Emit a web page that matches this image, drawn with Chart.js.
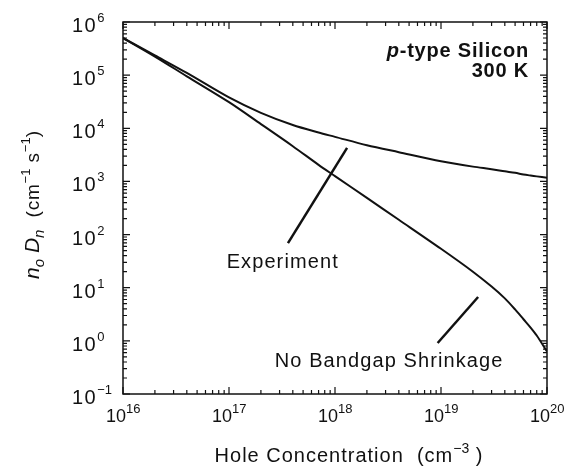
<!DOCTYPE html>
<html>
<head>
<meta charset="utf-8">
<script src="https://cdn.jsdelivr.net/npm/chart.js@4"></script>
<style>
  body { margin: 0; background: #fff; }
  #wrap { width: 581px; height: 470px; }
</style>
</head>
<body>
<div id="wrap"><canvas id="chart" width="581" height="470"></canvas></div>
<script>
// hole concentration (cm^-3)
const holeConc = [1e16, 2e16, 4e16, 1e17, 2e17, 4e17, 7e17, 1e18, 2e18, 4e18, 1e19, 2e19, 3e19, 4e19, 5e19, 6e19, 7e19, 8e19, 1e20];
// n_o D_n (cm^-1 s^-1), measured
const experiment = [5.0e5, 2.35e5, 1.1e5, 3.8e4, 1.95e4, 1.15e4, 8.3e3, 6.9e3, 4.8e3, 3.55e3, 2.4e3, 1.9e3, 1.7e3, 1.55e3, 1.45e3, 1.35e3, 1.29e3, 1.245e3, 1.17e3];
// n_o D_n without bandgap shrinkage
const noShrinkage = [5.0e5, 2.24e5, 9.5e4, 3.1e4, 1.2e4, 4.6e3, 2.05e3, 1.26e3, 490, 190, 54, 20, 10.5, 6.3, 3.9, 2.55, 1.78, 1.26, 0.63];

const xTickExps = [16, 17, 18, 19, 20];
const yTickExps = [-1, 0, 1, 2, 3, 4, 5, 6];

// callouts, in data coordinates
const notes = [
    { text: "Experiment", at: [9.5e16, 23], from: [3.6e17, 69], to: [1.3e18, 4270] },
    { text: "No Bandgap Shrinkage", at: [2.7e17, 0.32], from: [9.3e18, 0.91], to: [2.24e19, 6.7] }
];

const FAMILY = '"Liberation Sans", Arial, Helvetica, sans-serif';
const INK = "#111";

function fontOf(s) {
    return (s.italic ? "italic " : "") + (s.bold ? "bold " : "") + s.size + "px " + FAMILY;
}

function widthOf(ctx, s) {
    ctx.font = fontOf(s);
    ctx.letterSpacing = (s.ls || 0) + "px";
    return ctx.measureText(s.t).width;
}

// draw a row of text pieces (for super/subscripts)
function drawRun(ctx, segs, x, y, align) {
    let w = 0;
    segs.forEach(s => { w += widthOf(ctx, s); });
    let cx = align === "center" ? x - w / 2 : align === "right" ? x - w : x;
    ctx.textAlign = "left";
    ctx.textBaseline = "alphabetic";
    segs.forEach(s => {
        const sw = widthOf(ctx, s);
        ctx.fillText(s.t, cx, y + (s.dy || 0));
        cx += sw;
    });
    ctx.letterSpacing = "0px";
}

function pow10(exp, size, ls, supSize, supDy) {
    const e = String(exp).replace("-", "\u2212");
    return [{ t: "10", size: size, ls: ls }, { t: e, size: supSize, dy: supDy }];
}

const framePlugin = {
    id: "frame",
    afterDraw(chart) {
        const ctx = chart.ctx;
        const a = chart.chartArea;
        const xs = chart.scales.x, ys = chart.scales.y;
        ctx.save();
        ctx.strokeStyle = INK;
        ctx.fillStyle = INK;

        // frame
        ctx.lineWidth = 1.5;
        ctx.strokeRect(a.left, a.top, a.right - a.left, a.bottom - a.top);

        // inward ticks on all four sides
        ctx.lineWidth = 1.2;
        ctx.beginPath();
        for (let e = xTickExps[0]; e <= xTickExps[xTickExps.length - 1]; e++) {
            for (let m = 1; m <= 9; m++) {
                if (e === xTickExps[xTickExps.length - 1] && m > 1) break;
                const p = xs.getPixelForValue(m * Math.pow(10, e));
                const len = m === 1 ? 7 : 4;
                ctx.moveTo(p, a.bottom); ctx.lineTo(p, a.bottom - len);
                ctx.moveTo(p, a.top); ctx.lineTo(p, a.top + len);
            }
        }
        for (let e = yTickExps[0]; e <= yTickExps[yTickExps.length - 1]; e++) {
            for (let m = 1; m <= 9; m++) {
                if (e === yTickExps[yTickExps.length - 1] && m > 1) break;
                const p = ys.getPixelForValue(m * Math.pow(10, e));
                const len = m === 1 ? 7 : 4;
                ctx.moveTo(a.left, p); ctx.lineTo(a.left + len, p);
                ctx.moveTo(a.right, p); ctx.lineTo(a.right - len, p);
            }
        }
        ctx.stroke();

        // tick labels: the "10" ends just right of the x tick
        xTickExps.forEach(e => {
            const p = xs.getPixelForValue(Math.pow(10, e));
            const segs = pow10(e, 18, 0, 13, -9);
            drawRun(ctx, segs, p + 3 - widthOf(ctx, segs[0]), a.bottom + 28, "left");
        });
        // y labels: the "10" share a left edge
        yTickExps.forEach(e => {
            const p = ys.getPixelForValue(Math.pow(10, e));
            drawRun(ctx, pow10(e, 20, 1.5, 13, -10), a.left - 51, p + 10, "left");
        });

        // axis titles
        drawRun(ctx, [
            { t: "Hole Concentration  (cm", size: 20, ls: 1 },
            { t: "\u22123", size: 14, dy: -9 },
            { t: " )", size: 20, ls: 1 }
        ], a.left + 226, a.bottom + 68, "center");

        ctx.save();
        ctx.translate(39, 205);
        ctx.rotate(-Math.PI / 2);
        drawRun(ctx, [
            { t: "n", size: 21, italic: true },
            { t: "o", size: 15, italic: true, dy: 5 },
            { t: " ", size: 21 },
            { t: "D", size: 21, italic: true },
            { t: "n", size: 15, italic: true, dy: 5 },
            { t: "  (cm", size: 19, ls: 0.8 },
            { t: "\u22121", size: 13, dy: -9 },
            { t: " s", size: 19, ls: 0.8 },
            { t: "\u22121", size: 13, dy: -9 },
            { t: ")", size: 19 }
        ], 0, 0, "center");
        ctx.restore();

        // corner label
        drawRun(ctx, [
            { t: "p", size: 20, bold: true, italic: true, ls: 0.8 },
            { t: "-type Silicon", size: 20, bold: true, ls: 0.8 }
        ], a.right - 18, a.top + 35, "right");
        drawRun(ctx, [{ t: "300 K", size: 20, bold: true, ls: 0.8 }], a.right - 18, a.top + 55, "right");

        // callouts
        notes.forEach(n => {
            ctx.lineWidth = 2.5;
            ctx.beginPath();
            ctx.moveTo(xs.getPixelForValue(n.from[0]), ys.getPixelForValue(n.from[1]));
            ctx.lineTo(xs.getPixelForValue(n.to[0]), ys.getPixelForValue(n.to[1]));
            ctx.stroke();
            drawRun(ctx, [{ t: n.text, size: 20, ls: 1.1 }],
                xs.getPixelForValue(n.at[0]), ys.getPixelForValue(n.at[1]), "left");
        });

        ctx.restore();
    }
};

const toPoints = ys => holeConc.map((x, i) => ({ x: x, y: ys[i] }));

new Chart(document.getElementById("chart"), {
    type: "line",
    data: {
        datasets: [
            { label: "Experiment", data: toPoints(experiment) },
            { label: "No Bandgap Shrinkage", data: toPoints(noShrinkage) }
        ]
    },
    options: {
        responsive: false,
        animation: false,
        layout: { padding: { left: 123, right: 34, top: 22, bottom: 76 } },
        elements: {
            point: { radius: 0 },
            line: { borderColor: INK, borderWidth: 2, tension: 0.3, fill: false }
        },
        plugins: { legend: { display: false }, tooltip: { enabled: false } },
        scales: {
            x: { type: "logarithmic", min: 1e16, max: 1e20, display: false },
            y: { type: "logarithmic", min: 0.1, max: 1e6, display: false }
        }
    },
    plugins: [framePlugin]
});
</script>
</body>
</html>
